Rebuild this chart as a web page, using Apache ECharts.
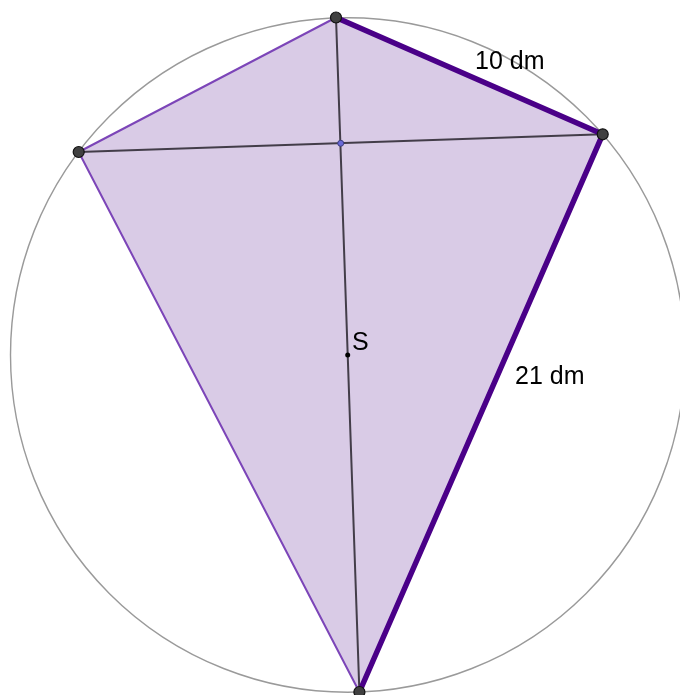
<!DOCTYPE html>
<html>
<head>
<meta charset="utf-8">
<script src="https://cdn.jsdelivr.net/npm/echarts@6/dist/echarts.min.js"></script>
<style>
  html, body { margin: 0; padding: 0; background: #ffffff; }
  #chart { width: 680px; height: 695px; }
</style>
</head>
<body>
<div id="chart"></div>
<script>
// Vertices of the kite (in a page-like data space)
const vertexNames = ['A', 'B', 'C', 'D'];
const vertexX = [336, 602.7, 359.4, 78.7];
const vertexY = [17.5, 134.3, 692, 152];
// Circumcentre S and radius
const centerS = [347.7, 355];
const circleRadius = 337.2;
// Intersection of the diagonals
const crossing = [340.7, 143.3];
// Side labels
const labelTexts = ['10 dm', '21 dm', 'S'];
const labelX = [475, 515, 352];
const labelY = [62, 377, 343];

const V = vertexNames.map((n, i) => [vertexX[i], vertexY[i]]);

const chart = echarts.init(document.getElementById('chart'), null, { renderer: 'canvas' });

function segSeries(pairs, color, width, z) {
  return {
    type: 'custom',
    coordinateSystem: 'cartesian2d',
    z: z,
    silent: true,
    data: pairs.map((p, i) => [i]),
    renderItem: function (params, api) {
      const pr = pairs[params.dataIndex];
      const p1 = api.coord(pr[0]);
      const p2 = api.coord(pr[1]);
      return {
        type: 'line',
        shape: { x1: p1[0], y1: p1[1], x2: p2[0], y2: p2[1] },
        style: { stroke: color, lineWidth: width, lineCap: 'round' }
      };
    }
  };
}

const option = {
  animation: false,
  backgroundColor: '#ffffff',
  grid: { left: 0, right: 0, top: 0, bottom: 0 },
  xAxis: { type: 'value', min: 0, max: 680, show: false },
  yAxis: { type: 'value', min: 0, max: 695, inverse: true, show: false },
  series: [
    // circumscribed circle
    {
      type: 'custom',
      coordinateSystem: 'cartesian2d',
      z: 1,
      silent: true,
      data: [centerS],
      renderItem: function (params, api) {
        const c = api.coord(centerS);
        const r = api.size([circleRadius, 0])[0];
        return {
          type: 'circle',
          shape: { cx: c[0], cy: c[1], r: r },
          style: { fill: null, stroke: '#9a9a9a', lineWidth: 1.4 }
        };
      }
    },
    // kite fill
    {
      type: 'custom',
      coordinateSystem: 'cartesian2d',
      z: 2,
      silent: true,
      data: [[0]],
      renderItem: function (params, api) {
        return {
          type: 'polygon',
          shape: { points: V.map(p => api.coord(p)) },
          style: { fill: '#d9cbe6', stroke: null }
        };
      }
    },
    // diagonals
    segSeries([[V[0], V[2]], [V[3], V[1]]], 'rgba(50,45,55,0.9)', 2, 3),
    // thin sides
    segSeries([[V[0], V[3]], [V[3], V[2]]], '#7c45b8', 2, 4),
    // thick sides
    segSeries([[V[0], V[1]], [V[1], V[2]]], '#4a0088', 5.5, 5),
    // vertices
    {
      type: 'scatter',
      z: 6,
      silent: true,
      symbol: 'circle',
      symbolSize: 11,
      itemStyle: { color: '#404040', borderColor: '#111111', borderWidth: 1.2, opacity: 1 },
      data: V
    },
    // centre S
    {
      type: 'scatter',
      z: 6,
      silent: true,
      symbol: 'circle',
      symbolSize: 5,
      itemStyle: { color: '#000000', opacity: 1 },
      data: [centerS]
    },
    // diagonal crossing
    {
      type: 'scatter',
      z: 6,
      silent: true,
      symbol: 'circle',
      symbolSize: 6,
      itemStyle: { color: '#6a6ad8', borderColor: '#3c3c80', borderWidth: 1, opacity: 1 },
      data: [crossing]
    },
    // labels
    {
      type: 'custom',
      coordinateSystem: 'cartesian2d',
      z: 7,
      silent: true,
      data: labelTexts.map((t, i) => [labelX[i], labelY[i]]),
      renderItem: function (params, api) {
        const i = params.dataIndex;
        const p = api.coord([labelX[i], labelY[i]]);
        return {
          type: 'text',
          x: p[0], y: p[1],
          style: {
            text: labelTexts[i],
            fill: '#000000',
            font: '25px "Liberation Sans", Arial, sans-serif',
            align: 'left',
            verticalAlign: 'middle'
          }
        };
      }
    }
  ]
};
chart.setOption(option);
</script>
</body>
</html>
